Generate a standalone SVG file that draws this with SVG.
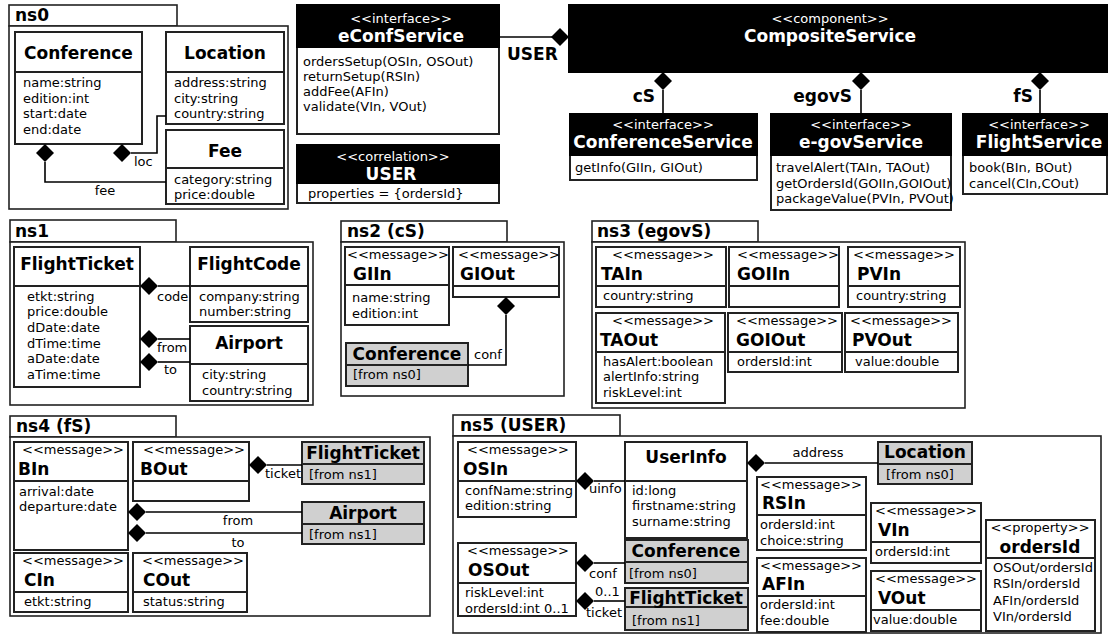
<svg xmlns="http://www.w3.org/2000/svg" xmlns:xlink="http://www.w3.org/1999/xlink" width="1110" height="637" viewBox="0 0 1110 637">
<style>
.bx{fill:#fff;stroke:#222;stroke-width:2}
.gr{fill:#d0d0d0;stroke:#222;stroke-width:2}
.fr{fill:#fff;stroke:#222;stroke-width:1.6}
.hd{fill:#000;stroke:#000;stroke-width:2}
.dv{stroke:#222;stroke-width:2}
.t{font-family:"DejaVu Sans","Liberation Sans",sans-serif;font-size:13px;fill:#000}
.b{font-family:"DejaVu Sans","Liberation Sans",sans-serif;font-size:17px;font-weight:bold;fill:#000}
.w{fill:#fff}
.c{text-anchor:middle}
.e{text-anchor:end}
.ln{fill:none;stroke:#000;stroke-width:1.6}
</style>
<defs>
<path id="dm" d="M0,-9 L9,0 L0,9 L-9,0Z" fill="#000"/>
</defs>
<rect width="1110" height="637" fill="#fff"/>

<!-- ns0 -->
<g id="ns0">
<rect class="fr" x="9" y="5" width="168" height="21"/>
<rect class="fr" x="9" y="26" width="279" height="183"/>
<text class="b" x="15" y="21">ns0</text>
</g>
<g id="ns0-Conference">
<rect class="bx" x="15" y="32" width="127" height="112"/><line class="dv" x1="15" y1="72" x2="142" y2="72"/>
<text class="b c" x="78.5" y="59">Conference</text>
<text class="t" x="23" y="87">name:string</text><text class="t" x="23" y="103">edition:int</text><text class="t" x="23" y="118">start:date</text><text class="t" x="23" y="134">end:date</text>
</g>
<g id="ns0-Location">
<rect class="bx" x="166" y="32" width="118" height="92"/><line class="dv" x1="166" y1="72" x2="284" y2="72"/>
<text class="b c" x="225" y="59">Location</text>
<text class="t" x="174" y="87">address:string</text><text class="t" x="174" y="103">city:string</text><text class="t" x="174" y="118">country:string</text>
</g>
<g id="ns0-Fee">
<rect class="bx" x="166" y="130" width="118" height="74"/><line class="dv" x1="166" y1="168" x2="284" y2="168"/>
<text class="b c" x="225" y="157">Fee</text>
<text class="t" x="174" y="184">category:string</text><text class="t" x="174" y="199">price:double</text>
</g>

<!-- top services -->
<g id="eConfService">
<rect class="bx" x="297" y="5" width="202" height="129" stroke="#000"/>
<rect class="hd" x="297" y="5" width="202" height="42"/>
<text class="t w c" x="401" y="23">&lt;&lt;interface&gt;&gt;</text>
<text class="b w c" x="401" y="42">eConfService</text>
<text class="t" x="303" y="66">ordersSetup(OSIn, OSOut)</text>
<text class="t" x="303" y="81">returnSetup(RSIn)</text>
<text class="t" x="303" y="96">addFee(AFIn)</text>
<text class="t" x="303" y="111">validate(VIn, VOut)</text>
</g>
<g id="USER">
<rect class="bx" x="297" y="145" width="202" height="58" stroke="#000"/>
<rect class="hd" x="297" y="145" width="202" height="38"/>
<text class="t w c" x="393" y="161">&lt;&lt;correlation&gt;&gt;</text>
<text class="b w c" x="391" y="180">USER</text>
<text class="t" x="308" y="198">properties = {ordersId}</text>
</g>
<g id="CompositeService">
<rect class="hd" x="569" y="5" width="538" height="67"/>
<text class="t w c" x="830" y="23">&lt;&lt;component&gt;&gt;</text>
<text class="b w c" x="830" y="42">CompositeService</text>
</g>
<g id="ConferenceService">
<rect class="bx" x="570" y="114" width="187" height="66" stroke="#000"/>
<rect class="hd" x="570" y="114" width="187" height="41"/>
<text class="t w c" x="663" y="129">&lt;&lt;interface&gt;&gt;</text>
<text class="b w c" x="663" y="148">ConferenceService</text>
<text class="t" x="575" y="172">getInfo(GIIn, GIOut)</text>
</g>
<g id="e-govService">
<rect class="bx" x="771" y="114" width="180" height="96" stroke="#000"/>
<rect class="hd" x="771" y="114" width="180" height="41"/>
<text class="t w c" x="861" y="129">&lt;&lt;interface&gt;&gt;</text>
<text class="b w c" x="861" y="148">e-govService</text>
<text class="t" x="776" y="172">travelAlert(TAIn, TAOut)</text>
<text class="t" x="776" y="188">getOrdersId(GOIIn,GOIOut)</text>
<text class="t" x="776" y="203">packageValue(PVIn, PVOut)</text>
</g>
<g id="FlightService">
<rect class="bx" x="963" y="114" width="144" height="80" stroke="#000"/>
<rect class="hd" x="963" y="114" width="144" height="41"/>
<text class="t w c" x="1039" y="129">&lt;&lt;interface&gt;&gt;</text>
<text class="b w c" x="1039" y="148">FlightService</text>
<text class="t" x="969" y="172">book(BIn, BOut)</text>
<text class="t" x="969" y="188">cancel(CIn,COut)</text>
</g>

<!-- ns1 -->
<g id="ns1">
<rect class="fr" x="10" y="220" width="166" height="22"/>
<rect class="fr" x="10" y="242" width="303" height="163"/>
<text class="b" x="15" y="237">ns1</text>
</g>
<g id="ns1-FlightTicket">
<rect class="bx" x="14" y="247" width="126" height="140"/><line class="dv" x1="14" y1="286" x2="140" y2="286"/>
<text class="b c" x="77" y="270">FlightTicket</text>
<text class="t" x="27" y="301">etkt:string</text><text class="t" x="27" y="316">price:double</text><text class="t" x="27" y="332">dDate:date</text><text class="t" x="27" y="348">dTime:time</text><text class="t" x="27" y="363">aDate:date</text><text class="t" x="27" y="379">aTime:time</text>
</g>
<g id="ns1-FlightCode">
<rect class="bx" x="190" y="247" width="118" height="75"/><line class="dv" x1="190" y1="286" x2="308" y2="286"/>
<text class="b c" x="249" y="270">FlightCode</text>
<text class="t" x="199" y="301">company:string</text><text class="t" x="199" y="316">number:string</text>
</g>
<g id="ns1-Airport">
<rect class="bx" x="190" y="326" width="118" height="75"/><line class="dv" x1="190" y1="364" x2="308" y2="364"/>
<text class="b c" x="249" y="349">Airport</text>
<text class="t" x="202" y="379">city:string</text><text class="t" x="202" y="395">country:string</text>
</g>

<!-- ns2 -->
<g id="ns2">
<rect class="fr" x="341" y="221" width="166" height="21"/>
<rect class="fr" x="341" y="242" width="223" height="154"/>
<text class="b" x="347" y="237">ns2 (cS)</text>
</g>
<g id="ns2-GIIn">
<rect class="bx" x="345" y="247" width="104" height="78"/><line class="dv" x1="345" y1="285" x2="449" y2="285"/>
<text class="t" x="347" y="259">&lt;&lt;message&gt;&gt;</text><text class="b" x="353" y="280">GIIn</text>
<text class="t" x="352" y="302">name:string</text><text class="t" x="352" y="318">edition:int</text>
</g>
<g id="ns2-GIOut">
<rect class="bx" x="453" y="247" width="106" height="50"/><line class="dv" x1="453" y1="286" x2="559" y2="286"/>
<text class="t" x="458" y="259">&lt;&lt;message&gt;&gt;</text><text class="b" x="460" y="280">GIOut</text>
</g>
<g id="ns2-Conference">
<rect class="gr" x="346" y="343" width="122" height="43"/><line class="dv" x1="346" y1="365" x2="468" y2="365"/>
<text class="b c" x="407" y="360">Conference</text><text class="t" x="353" y="379">[from ns0]</text>
</g>

<!-- ns3 -->
<g id="ns3">
<rect class="fr" x="592" y="221" width="166" height="21"/>
<rect class="fr" x="592" y="242" width="373" height="166"/>
<text class="b" x="597" y="237">ns3 (egovS)</text>
</g>
<g id="ns3-TAIn">
<rect class="bx" x="596" y="247" width="130" height="60"/><line class="dv" x1="596" y1="286" x2="726" y2="286"/>
<text class="t" x="612" y="259">&lt;&lt;message&gt;&gt;</text><text class="b" x="601" y="280">TAIn</text>
<text class="t" x="603" y="300">country:string</text>
</g>
<g id="ns3-GOIIn">
<rect class="bx" x="729" y="247" width="110" height="60"/><line class="dv" x1="729" y1="286" x2="839" y2="286"/>
<text class="t" x="737" y="259">&lt;&lt;message&gt;&gt;</text><text class="b" x="737" y="280">GOIIn</text>
</g>
<g id="ns3-PVIn">
<rect class="bx" x="848" y="247" width="112" height="60"/><line class="dv" x1="848" y1="286" x2="960" y2="286"/>
<text class="t" x="853" y="259">&lt;&lt;message&gt;&gt;</text><text class="b" x="857" y="280">PVIn</text>
<text class="t" x="856" y="300">country:string</text>
</g>
<g id="ns3-TAOut">
<rect class="bx" x="596" y="313" width="129" height="90"/><line class="dv" x1="596" y1="352" x2="725" y2="352"/>
<text class="t" x="612" y="325">&lt;&lt;message&gt;&gt;</text><text class="b" x="600" y="346">TAOut</text>
<text class="t" x="603" y="366">hasAlert:boolean</text><text class="t" x="603" y="381">alertInfo:string</text><text class="t" x="603" y="397">riskLevel:int</text>
</g>
<g id="ns3-GOIOut">
<rect class="bx" x="728" y="313" width="114" height="59"/><line class="dv" x1="728" y1="352" x2="842" y2="352"/>
<text class="t" x="736" y="325">&lt;&lt;message&gt;&gt;</text><text class="b" x="736" y="346">GOIOut</text>
<text class="t" x="737" y="366">ordersId:int</text>
</g>
<g id="ns3-PVOut">
<rect class="bx" x="845" y="313" width="113" height="59"/><line class="dv" x1="845" y1="352" x2="958" y2="352"/>
<text class="t" x="850" y="325">&lt;&lt;message&gt;&gt;</text><text class="b" x="852" y="346">PVOut</text>
<text class="t" x="855" y="366">value:double</text>
</g>

<!-- ns4 -->
<g id="ns4">
<rect class="fr" x="10" y="416" width="166" height="21"/>
<rect class="fr" x="10" y="437" width="420" height="179"/>
<text class="b" x="16" y="432">ns4 (fS)</text>
</g>
<g id="ns4-BIn">
<rect class="bx" x="14" y="442" width="114" height="108"/><line class="dv" x1="14" y1="481" x2="128" y2="481"/>
<text class="t" x="22" y="454">&lt;&lt;message&gt;&gt;</text><text class="b" x="18" y="475">BIn</text>
<text class="t" x="19" y="496">arrival:date</text><text class="t" x="19" y="511">departure:date</text>
</g>
<g id="ns4-BOut">
<rect class="bx" x="133" y="442" width="116" height="59"/><line class="dv" x1="133" y1="481" x2="249" y2="481"/>
<text class="t" x="143" y="454">&lt;&lt;message&gt;&gt;</text><text class="b" x="140" y="475">BOut</text>
</g>
<g id="ns4-FlightTicket">
<rect class="gr" x="302" y="442" width="122" height="42"/><line class="dv" x1="302" y1="464" x2="424" y2="464"/>
<text class="b c" x="363" y="459">FlightTicket</text><text class="t" x="309" y="479">[from ns1]</text>
</g>
<g id="ns4-Airport">
<rect class="gr" x="302" y="502" width="122" height="42"/><line class="dv" x1="302" y1="524" x2="424" y2="524"/>
<text class="b c" x="363" y="519">Airport</text><text class="t" x="309" y="539">[from ns1]</text>
</g>
<g id="ns4-CIn">
<rect class="bx" x="14" y="553" width="114" height="59"/><line class="dv" x1="14" y1="592" x2="128" y2="592"/>
<text class="t" x="22" y="565">&lt;&lt;message&gt;&gt;</text><text class="b" x="24" y="586">CIn</text>
<text class="t" x="24" y="606">etkt:string</text>
</g>
<g id="ns4-COut">
<rect class="bx" x="133" y="553" width="114" height="59"/><line class="dv" x1="133" y1="592" x2="247" y2="592"/>
<text class="t" x="142" y="565">&lt;&lt;message&gt;&gt;</text><text class="b" x="143" y="586">COut</text>
<text class="t" x="143" y="606">status:string</text>
</g>

<!-- ns5 -->
<g id="ns5">
<rect class="fr" x="453" y="415" width="167" height="21"/>
<rect class="fr" x="453" y="436" width="648" height="197"/>
<text class="b" x="460" y="431">ns5 (USER)</text>
</g>
<g id="ns5-OSIn">
<rect class="bx" x="458" y="442" width="118" height="75"/><line class="dv" x1="458" y1="481" x2="576" y2="481"/>
<text class="t" x="467" y="454">&lt;&lt;message&gt;&gt;</text><text class="b" x="463" y="475">OSIn</text>
<text class="t" x="465" y="495">confName:string</text><text class="t" x="465" y="510">edition:string</text>
</g>
<g id="ns5-UserInfo">
<rect class="bx" x="625" y="442" width="122" height="96"/><line class="dv" x1="625" y1="481" x2="747" y2="481"/>
<text class="b c" x="686" y="463">UserInfo</text>
<text class="t" x="632" y="495">id:long</text><text class="t" x="632" y="510">firstname:string</text><text class="t" x="632" y="526">surname:string</text>
</g>
<g id="ns5-Location">
<rect class="gr" x="878" y="442" width="94" height="42"/><line class="dv" x1="878" y1="464" x2="972" y2="464"/>
<text class="b c" x="925" y="458">Location</text><text class="t" x="886" y="479">[from ns0]</text>
</g>
<g id="ns5-OSOut">
<rect class="bx" x="458" y="543" width="118" height="73"/><line class="dv" x1="458" y1="583" x2="576" y2="583"/>
<text class="t" x="467" y="555">&lt;&lt;message&gt;&gt;</text><text class="b" x="468" y="576">OSOut</text>
<text class="t" x="465" y="597">riskLevel:int</text><text class="t" x="465" y="613">ordersId:int 0..1</text>
</g>
<g id="ns5-Conference">
<rect class="gr" x="625" y="540" width="123" height="43"/><line class="dv" x1="625" y1="562" x2="748" y2="562"/>
<text class="b c" x="686" y="557">Conference</text><text class="t" x="629" y="578">[from ns0]</text>
</g>
<g id="ns5-FlightTicket">
<rect class="gr" x="625" y="588" width="123" height="42"/><line class="dv" x1="625" y1="607" x2="748" y2="607"/>
<text class="b c" x="686" y="604">FlightTicket</text><text class="t" x="632" y="625">[from ns1]</text>
</g>
<g id="ns5-RSIn">
<rect class="bx" x="757" y="477" width="109" height="73"/><line class="dv" x1="757" y1="515" x2="866" y2="515"/>
<text class="t" x="760" y="489">&lt;&lt;message&gt;&gt;</text><text class="b" x="762" y="509">RSIn</text>
<text class="t" x="760" y="529">ordersId:int</text><text class="t" x="760" y="545">choice:string</text>
</g>
<g id="ns5-AFIn">
<rect class="bx" x="757" y="558" width="109" height="74"/><line class="dv" x1="757" y1="596" x2="866" y2="596"/>
<text class="t" x="760" y="570">&lt;&lt;message&gt;&gt;</text><text class="b" x="762" y="590">AFIn</text>
<text class="t" x="760" y="609">ordersId:int</text><text class="t" x="760" y="625">fee:double</text>
</g>
<g id="ns5-VIn">
<rect class="bx" x="871" y="503" width="110" height="60"/><line class="dv" x1="871" y1="542" x2="981" y2="542"/>
<text class="t" x="875" y="515">&lt;&lt;message&gt;&gt;</text><text class="b" x="878" y="536">VIn</text>
<text class="t" x="875" y="556">ordersId:int</text>
</g>
<g id="ns5-VOut">
<rect class="bx" x="871" y="571" width="110" height="60"/><line class="dv" x1="871" y1="610" x2="981" y2="610"/>
<text class="t" x="875" y="583">&lt;&lt;message&gt;&gt;</text><text class="b" x="878" y="604">VOut</text>
<text class="t" x="873" y="624">value:double</text>
</g>
<g id="ns5-ordersId">
<rect class="bx" x="986" y="520" width="109" height="111"/><line class="dv" x1="986" y1="558" x2="1095" y2="558"/>
<text class="t c" x="1040" y="532">&lt;&lt;property&gt;&gt;</text><text class="b c" x="1040" y="553">ordersId</text>
<text class="t" x="993" y="572">OSOut/ordersId</text><text class="t" x="993" y="588">RSIn/ordersId</text><text class="t" x="993" y="605">AFIn/ordersId</text><text class="t" x="993" y="621">VIn/ordersId</text>
</g>

<!-- connectors -->
<g id="connectors">
<path class="ln" d="M131,153 H157 V116 H166"/><use xlink:href="#dm" x="122" y="153"/>
<text class="t" x="134" y="166">loc</text>
<path class="ln" d="M45,162 V182 H166"/><use xlink:href="#dm" x="45" y="153"/>
<text class="t c" x="105" y="195">fee</text>

<path class="ln" d="M499,37 H552"/><use xlink:href="#dm" x="560" y="37"/>
<text class="b" x="507" y="60">USER</text>

<path class="ln" d="M663,90 V114"/><use xlink:href="#dm" x="663" y="81"/>
<text class="b e" x="655" y="102">cS</text>
<path class="ln" d="M861,90 V114"/><use xlink:href="#dm" x="861" y="81"/>
<text class="b e" x="852" y="102">egovS</text>
<path class="ln" d="M1040,90 V114"/><use xlink:href="#dm" x="1040" y="81"/>
<text class="b e" x="1033" y="102">fS</text>

<path class="ln" d="M158,286 H190"/><use xlink:href="#dm" x="149" y="286"/>
<text class="t" x="157" y="301">code</text>
<path class="ln" d="M158,339 H190"/><use xlink:href="#dm" x="149" y="339"/>
<text class="t" x="157" y="352">from</text>
<path class="ln" d="M158,362 H190"/><use xlink:href="#dm" x="149" y="362"/>
<text class="t" x="164" y="374">to</text>

<path class="ln" d="M506,315 V365 H468"/><use xlink:href="#dm" x="506" y="306"/>
<text class="t" x="474" y="359">conf</text>

<path class="ln" d="M267,465 H302"/><use xlink:href="#dm" x="258" y="465"/>
<text class="t" x="265" y="478">ticket</text>
<path class="ln" d="M146,512 H302"/><use xlink:href="#dm" x="137" y="512"/>
<text class="t c" x="238" y="525">from</text>
<path class="ln" d="M146,533 H302"/><use xlink:href="#dm" x="137" y="533"/>
<text class="t c" x="238" y="547">to</text>

<path class="ln" d="M594,481 H625"/><use xlink:href="#dm" x="585" y="481"/>
<text class="t" x="589" y="493">uinfo</text>
<path class="ln" d="M765,463 H878"/><use xlink:href="#dm" x="756" y="463"/>
<text class="t c" x="818" y="457">address</text>
<path class="ln" d="M594,563 H625"/><use xlink:href="#dm" x="585" y="563"/>
<text class="t" x="589" y="578">conf</text>
<path class="ln" d="M594,601 H625"/><use xlink:href="#dm" x="585" y="601"/>
<text class="t" x="595" y="596">0..1</text>
<text class="t" x="586" y="617">ticket</text>
</g>
</svg>
